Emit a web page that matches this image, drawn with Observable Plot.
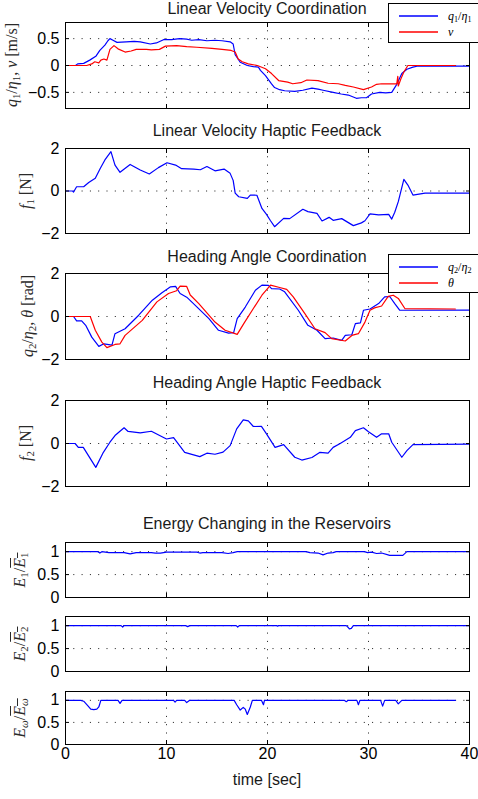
<!DOCTYPE html>
<html>
<head>
<meta charset="utf-8">
<script src="https://cdn.jsdelivr.net/npm/d3@7"></script>
<script src="https://cdn.jsdelivr.net/npm/@observablehq/plot@0.6"></script>
<style>
  html, body { margin: 0; padding: 0; background: #fff; }
  #fig { position: relative; width: 478px; height: 799px; overflow: hidden; background: #fff;
         font-family: "Liberation Sans", Arial, sans-serif; }
  .panel { position: absolute; left: 0; }
  .title { position: absolute; left: 65px; width: 404px; text-align: center; font-size: 16px;
           line-height: 16px; color: #1a1a1a; white-space: nowrap; }
  .xlab { position: absolute; left: 65px; width: 404px; text-align: center; font-size: 16px;
          line-height: 16px; color: #1a1a1a; white-space: nowrap; }
  .ylab { position: absolute; transform: translate(-50%, -50%) rotate(-90deg); white-space: nowrap;
          font-family: "Liberation Serif", "Times New Roman", serif; font-size: 16px; line-height: 16px; color: #2a2a2a; }
  .ylab i, .leg i { font-style: italic; }
  .ylab sub, .leg sub { font-size: 0.68em; vertical-align: -0.3em; line-height: 0; }
  .ol { text-decoration: overline; }
  .legend { position: absolute; left: 388px; width: 110px; border: 1px solid #000; background: #fff; z-index: 5; }
  .legend svg { position: absolute; left: 0; top: 0; }
  .leg { position: absolute; left: 59px; font-family: "Liberation Serif", "Times New Roman", serif;
         font-size: 12px; line-height: 12px; color: #000; white-space: nowrap; }
</style>
</head>
<body>
<div id="fig"></div>
<script>
// time axis
const xTicks = [0, 10, 20, 30, 40];

// q1/eta1 (normalised master linear velocity)
const q1T = [0, 1.0, 1.2, 1.8, 2.4, 3.0, 3.4, 3.9, 4.2, 4.4, 4.7, 5.1, 6.0, 6.8, 7.4, 8.4, 9.0, 9.7, 10.5, 11.3, 12.0, 12.5, 13.2, 14.0, 14.8, 15.5, 16.3, 16.6, 16.8, 17.3, 18.0, 18.6, 19.1, 19.3, 19.8, 20.4, 20.7, 21.2, 21.7, 22.7, 23.5, 24.4, 25.0, 25.5, 26.5, 27.3, 28.0, 28.8, 29.3, 29.8, 30.3, 31.1, 31.7, 32.3, 32.8, 33.3, 33.8, 34.4, 34.9, 40];
const q1V = [0, 0, 0.03, 0.04, 0.1, 0.17, 0.28, 0.38, 0.46, 0.5, 0.47, 0.43, 0.44, 0.45, 0.44, 0.4, 0.42, 0.48, 0.48, 0.5, 0.49, 0.47, 0.48, 0.46, 0.47, 0.46, 0.44, 0.4, 0.2, 0.06, 0.0, -0.02, -0.03, -0.09, -0.19, -0.34, -0.41, -0.45, -0.47, -0.48, -0.46, -0.42, -0.44, -0.46, -0.5, -0.53, -0.55, -0.61, -0.6, -0.6, -0.53, -0.5, -0.51, -0.5, -0.35, -0.15, -0.07, -0.03, -0.01, -0.01];

// nu (robot linear velocity)
const nuT = [0, 2.1, 2.6, 2.9, 3.3, 3.5, 3.8, 4.1, 4.4, 4.8, 5.2, 5.9, 6.5, 7.0, 8.0, 8.5, 9.3, 9.9, 11, 12, 13, 14.5, 15.5, 16.4, 16.8, 17.1, 17.5, 18.1, 19.0, 19.8, 20.4, 21.1, 22.0, 22.5, 23.3, 23.9, 25.0, 26.0, 27.0, 27.7, 28.5, 29.5, 30.3, 30.8, 31.3, 32.0, 32.8, 32.9, 32.95, 33.2, 33.5, 33.9, 38.6];
const nuV = [0, 0, 0.03, 0.07, 0.05, 0.1, 0.12, 0.1, 0.3, 0.37, 0.31, 0.25, 0.27, 0.3, 0.3, 0.29, 0.3, 0.36, 0.37, 0.35, 0.34, 0.32, 0.3, 0.28, 0.25, 0.12, 0.07, 0.03, 0.0, -0.06, -0.15, -0.28, -0.31, -0.34, -0.32, -0.27, -0.28, -0.33, -0.34, -0.37, -0.4, -0.45, -0.4, -0.35, -0.34, -0.34, -0.34, -0.2, -0.38, -0.25, -0.12, 0, 0];

// f1 (linear velocity haptic force)
const f1T = [0, 0.7, 0.8, 1.1, 1.8, 2.3, 2.95, 3.45, 3.9, 4.5, 4.9, 5.4, 6.4, 7.4, 8.3, 9.2, 10.05, 10.9, 11.5, 12.7, 13.35, 14.0, 14.8, 15.7, 16.3, 16.6, 16.8, 17.15, 18.0, 18.3, 18.95, 19.45, 19.9, 20.3, 20.7, 21.6, 22.2, 23.5, 24.0, 24.9, 25.4, 26.1, 26.5, 27.35, 28.5, 29.3, 29.65, 30.15, 31.0, 32.0, 32.3, 32.6, 32.95, 33.5, 33.9, 34.4, 35.6, 40];
const f1V = [0, 0, -0.05, 0.2, 0.2, 0.4, 0.6, 1.07, 1.46, 1.85, 1.22, 0.88, 1.25, 0.99, 0.8, 1.1, 1.33, 1.22, 1.05, 1.03, 1.0, 1.15, 0.95, 1.03, 0.83, 0.5, -0.1, -0.27, -0.35, -0.19, -0.2, -0.82, -1.1, -1.4, -1.68, -1.29, -1.3, -0.86, -0.97, -1.05, -1.41, -1.24, -1.38, -1.3, -1.63, -1.5, -1.4, -1.08, -1.12, -1.1, -1.32, -1.0, -0.5, 0.55, 0.28, -0.19, -0.1, -0.1];

// q2/eta2 (normalised master heading)
const q2T = [0, 0.8, 1.1, 1.6, 2.0, 2.6, 3.3, 3.8, 4.6, 4.9, 5.9, 7.25, 8.6, 9.55, 10.4, 10.9, 11.35, 12.0, 12.85, 14.2, 15.15, 16.15, 16.65, 17.0, 17.8, 18.8, 19.45, 20.1, 20.4, 21.2, 21.7, 23.05, 24.0, 24.9, 25.7, 26.5, 27.35, 27.7, 28.35, 28.7, 29.2, 29.5, 30.15, 31.0, 31.6, 32.1, 32.6, 33.1, 40];
const q2V = [0, 0, -0.2, -0.2, -0.41, -0.96, -1.39, -1.27, -1.33, -0.8, -0.57, 0.06, 0.76, 1.1, 1.38, 1.4, 1.07, 0.9, 0.52, -0.1, -0.64, -0.77, -0.75, -0.1, 0.44, 1.22, 1.46, 1.45, 1.3, 1.28, 1.15, 0.29, -0.41, -0.64, -1.03, -1.0, -1.11, -0.88, -0.85, -0.33, -0.3, 0.29, 0.35, 0.6, 0.91, 0.93, 0.6, 0.29, 0.3];

// theta (robot heading)
const thT = [0, 2.45, 2.95, 3.6, 4.1, 4.9, 5.4, 5.9, 7.6, 9.05, 10.2, 11.0, 11.35, 12.0, 12.35, 13.2, 14.8, 15.8, 17.0, 17.65, 18.6, 19.45, 20.3, 21.2, 21.9, 22.55, 23.7, 24.7, 25.7, 26.35, 27.7, 28.35, 29.0, 29.65, 30.15, 30.6, 31.3, 31.95, 32.45, 32.95, 33.6, 38.6];
const thV = [0, 0, -0.64, -1.19, -1.45, -1.3, -1.27, -0.88, -0.18, 0.68, 1.07, 1.2, 1.41, 1.4, 1.0, 0.6, -0.26, -0.64, -0.83, -0.33, 0.37, 0.99, 1.46, 1.35, 1.26, 0.91, 0.13, -0.57, -0.75, -1.03, -1.14, -0.88, -0.8, -0.26, 0.29, 0.4, 0.49, 0.94, 0.99, 0.84, 0.37, 0.35];

// f2 (heading haptic force)
const f2T = [0, 0.95, 1.27, 1.76, 3.0, 3.75, 4.4, 4.9, 5.8, 6.2, 7.4, 8.5, 10.0, 10.7, 11.8, 13.3, 14.0, 14.8, 15.6, 16.3, 16.95, 17.6, 18.1, 18.6, 19.4, 19.9, 20.75, 21.6, 22.7, 23.4, 24.4, 25.2, 26.0, 26.5, 27.2, 28.2, 28.7, 29.5, 30.0, 30.8, 31.3, 32.0, 32.3, 33.3, 33.8, 34.4, 40];
const f2V = [0, 0, -0.18, -0.18, -1.11, -0.41, 0.06, 0.37, 0.73, 0.56, 0.49, 0.57, 0.21, 0.27, -0.41, -0.61, -0.45, -0.5, -0.4, -0.1, 0.68, 1.1, 1.05, 0.79, 0.8, 0.45, -0.18, -0.05, -0.64, -0.77, -0.65, -0.41, -0.45, -0.18, 0.0, 0.29, 0.6, 0.73, 0.55, 0.29, 0.45, 0.45, 0.06, -0.64, -0.33, -0.05, -0.03];

// reservoir energies, normalised
const e1T = [0, 3.2, 3.4, 3.6, 4.3, 4.5, 5.8, 6.4, 7.0, 8.5, 8.9, 9.4, 10, 13.0, 13.3, 13.6, 15.5, 16.1, 16.6, 17, 23.8, 24.2, 25.0, 25.5, 26.0, 26.5, 26.8, 29.6, 29.9, 30.3, 30.8, 31.3, 32.1, 33.4, 33.8, 40];
const e1V = [1, 1, 0.97, 1, 0.98, 0.98, 0.98, 0.95, 0.98, 0.98, 0.97, 0.97, 0.99, 0.99, 0.97, 0.98, 0.98, 0.96, 0.98, 1, 1, 0.98, 0.97, 0.93, 0.97, 0.98, 1, 1, 0.98, 0.99, 0.96, 0.97, 0.92, 0.92, 1, 1];
const e2T = [0, 5.5, 5.66, 5.8, 11.9, 12.1, 12.3, 16.9, 17.05, 17.2, 20.9, 21.0, 21.1, 27.8, 28.0, 28.1, 28.3, 28.5, 40];
const e2V = [1, 1, 0.97, 1, 1, 0.98, 1, 1, 0.97, 1, 1, 0.99, 1, 1, 0.96, 0.93, 0.94, 1, 1];
const ewT = [0, 1.5, 1.8, 2.2, 2.5, 2.8, 3.1, 3.3, 3.5, 5.2, 5.4, 5.6, 10.7, 10.85, 11.0, 11.8, 12.0, 12.3, 16.7, 16.95, 17.3, 17.6, 17.8, 18.0, 18.3, 18.5, 19.4, 19.6, 19.7, 27.6, 27.8, 28.0, 28.85, 29.0, 29.15, 31.2, 31.4, 31.6, 32.7, 32.95, 33.3, 38.6];
const ewV = [1, 1, 0.98, 0.88, 0.8, 0.79, 0.8, 0.85, 1, 1, 0.93, 1, 1, 0.96, 1, 1, 0.95, 1, 1, 0.9, 0.78, 0.84, 0.8, 0.68, 0.85, 1, 1, 0.9, 1, 1, 0.97, 1, 1, 0.9, 1, 1, 0.87, 1, 1, 0.92, 1, 1];

const BLUE = "#0000ff", RED = "#ff0000";
const rows = (T, V) => T.map((t, i) => ({t, v: V[i]}));
const fmt = d => (d < 0 ? "\u2212" : "") + String(Math.abs(d));

const fig = document.getElementById("fig");

function panel({top, bottom, domain, ticks, series, xLabels = false}) {
  const mt = 10, mb = xLabels ? 30 : 10;
  const dot = {stroke: "#000", strokeOpacity: 0.9, strokeWidth: 1, strokeDasharray: "1,7.3"};
  const blank = () => "";
  const marks = [
    Plot.gridX(xTicks.slice(1, -1), dot),
    Plot.gridY(ticks, dot),
    ...series.map(s => Plot.line(rows(s.T, s.V), {x: "t", y: "v", stroke: s.color, strokeWidth: 1.2})),
    Plot.frame({stroke: "#000", strokeWidth: 1}),
    // inward tick marks on all four sides
    Plot.axisX(xTicks, {anchor: "bottom", tickSize: -4, tickFormat: blank, label: null}),
    Plot.axisX(xTicks, {anchor: "top", tickSize: -4, tickFormat: blank, label: null}),
    Plot.axisY(ticks, {anchor: "right", tickSize: -4, tickFormat: blank, label: null}),
    Plot.axisY(ticks, {anchor: "left", tickSize: -4, tickFormat: blank, label: null}),
    // tick labels
    Plot.axisY(ticks, {anchor: "left", tickSize: 0, tickPadding: 6, fontSize: 16, label: null, tickFormat: fmt})
  ];
  if (xLabels) marks.push(Plot.axisX(xTicks, {anchor: "bottom", tickSize: 0, tickPadding: 3, fontSize: 16, label: null, tickFormat: fmt}));
  const svg = Plot.plot({
    width: 478,
    height: bottom - top + mt + mb,
    marginLeft: 65, marginRight: 9, marginTop: mt, marginBottom: mb,
    x: {domain: [0, 40]},
    y: {domain},
    style: {fontFamily: '"Liberation Sans", Arial, sans-serif', background: "transparent", overflow: "visible", color: "#000"},
    marks
  });
  svg.classList.add("panel");
  svg.style.top = (top - mt) + "px";
  fig.appendChild(svg);
}

function title(text, baseline) {
  const d = document.createElement("div");
  d.className = "title";
  d.textContent = text;
  d.style.top = (baseline - 13) + "px";
  fig.appendChild(d);
}

function ylab(html, cx, cy) {
  const d = document.createElement("div");
  d.className = "ylab";
  d.innerHTML = html;
  d.style.left = cx + "px";
  d.style.top = cy + "px";
  fig.appendChild(d);
}

function legend(top, height, items) {
  const box = document.createElement("div");
  box.className = "legend";
  box.style.top = top + "px";
  box.style.height = height + "px";
  const ns = "http://www.w3.org/2000/svg";
  const sw = document.createElementNS(ns, "svg");
  sw.setAttribute("width", 60);
  sw.setAttribute("height", height);
  box.appendChild(sw);
  items.forEach(([color, html], i) => {
    const y = 12 + i * 16;
    const ln = document.createElementNS(ns, "line");
    ln.setAttribute("x1", 10);
    ln.setAttribute("x2", 49);
    ln.setAttribute("y1", y);
    ln.setAttribute("y2", y);
    ln.setAttribute("stroke", color);
    ln.setAttribute("stroke-width", 1.5);
    sw.appendChild(ln);
    const t = document.createElement("div");
    t.className = "leg";
    t.style.top = (y - 6) + "px";
    t.innerHTML = html;
    box.appendChild(t);
  });
  fig.appendChild(box);
}

panel({top: 22, bottom: 108, domain: [-0.8, 0.8], ticks: [-0.5, 0, 0.5],
  series: [{T: q1T, V: q1V, color: BLUE}, {T: nuT, V: nuV, color: RED}]});
panel({top: 148, bottom: 233, domain: [-2, 2], ticks: [-2, 0, 2],
  series: [{T: f1T, V: f1V, color: BLUE}]});
panel({top: 273, bottom: 359, domain: [-2, 2], ticks: [-2, 0, 2],
  series: [{T: q2T, V: q2V, color: BLUE}, {T: thT, V: thV, color: RED}]});
panel({top: 400, bottom: 486, domain: [-2, 2], ticks: [-2, 0, 2],
  series: [{T: f2T, V: f2V, color: BLUE}]});
panel({top: 542, bottom: 597, domain: [0, 1.2], ticks: [0, 0.5, 1],
  series: [{T: e1T, V: e1V, color: BLUE}]});
panel({top: 616, bottom: 671, domain: [0, 1.2], ticks: [0, 0.5, 1],
  series: [{T: e2T, V: e2V, color: BLUE}]});
panel({top: 691, bottom: 744, domain: [0, 1.2], ticks: [0, 0.5, 1],
  series: [{T: ewT, V: ewV, color: BLUE}], xLabels: true});

title("Linear Velocity Coordination", 14);
title("Linear Velocity Haptic Feedback", 135.7);
title("Heading Angle Coordination", 261.7);
title("Heading Angle Haptic Feedback", 387.7);
title("Energy Changing in the Reservoirs", 529.3);

const xl = document.createElement("div");
xl.className = "xlab";
xl.textContent = "time [sec]";
xl.style.top = (785 - 13) + "px";
fig.appendChild(xl);

ylab('<i>q</i><sub>1</sub>/<i>η</i><sub>1</sub>, <i>ν</i> [m/s]', 12, 65);
ylab('<i>f</i><sub>1</sub> [N]', 26, 190.5);
ylab('<i>q</i><sub>2</sub>/<i>η</i><sub>2</sub>, <i>θ</i> [rad]', 28, 316);
ylab('<i>f</i><sub>2</sub> [N]', 26, 443);
ylab('<i>E</i><sub>1</sub>/<span class="ol"><i>E</i><sub>1</sub></span>', 20, 569.5);
ylab('<i>E</i><sub>2</sub>/<span class="ol"><i>E</i><sub>2</sub></span>', 20, 643.5);
ylab('<i>E</i><sub><i>ω</i></sub>/<span class="ol"><i>E</i><sub><i>ω</i></sub></span>', 20, 717.5);

legend(3, 38, [[BLUE, '<i>q</i><sub>1</sub>/<i>η</i><sub>1</sub>'], [RED, '<i>ν</i>']]);
legend(254, 37, [[BLUE, '<i>q</i><sub>2</sub>/<i>η</i><sub>2</sub>'], [RED, '<i>θ</i>']]);
</script>
</body>
</html>
